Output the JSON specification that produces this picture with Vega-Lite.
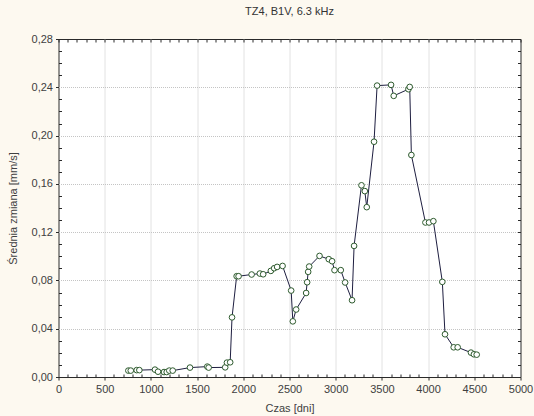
{
  "$schema": "https://vega.github.io/schema/vega-lite/v6.json",
  "width": 462,
  "height": 338,
  "autosize": {"type": "none"},
  "padding": {"left": 58.5, "top": 39, "right": 13.5, "bottom": 39},
  "background": "#fdf9f0",
  "title": {
    "text": "TZ4, B1V, 6.3 kHz",
    "font": "Liberation Sans",
    "fontSize": 11,
    "fontWeight": "normal",
    "color": "#333333",
    "offset": 16
  },
  "config": {
    "view": {"fill": "white", "stroke": "#2a2a2a", "strokeWidth": 1},
    "axis": {
      "labelFont": "Liberation Sans",
      "labelFontSize": 11,
      "labelColor": "#404040",
      "titleFont": "Liberation Sans",
      "titleFontSize": 11,
      "titleFontWeight": "normal",
      "titleColor": "#404040",
      "domain": false,
      "tickColor": "#2a2a2a",
      "gridColor": "#c4c4c4",
      "gridDash": [1, 1],
      "labelOverlap": false,
      "labelFlush": false
    }
  },
  "data": {
    "values": [
      {"t": 756, "v": 0.0053}, {"t": 782, "v": 0.0053}, {"t": 846, "v": 0.0057},
      {"t": 875, "v": 0.0057}, {"t": 1044, "v": 0.0061}, {"t": 1077, "v": 0.0044},
      {"t": 1142, "v": 0.0041}, {"t": 1171, "v": 0.0041}, {"t": 1199, "v": 0.0053},
      {"t": 1236, "v": 0.0053}, {"t": 1423, "v": 0.0078}, {"t": 1610, "v": 0.0086},
      {"t": 1625, "v": 0.0078}, {"t": 1804, "v": 0.0080}, {"t": 1823, "v": 0.0119},
      {"t": 1858, "v": 0.0122}, {"t": 1878, "v": 0.0494}, {"t": 1928, "v": 0.0835},
      {"t": 1949, "v": 0.0835}, {"t": 2090, "v": 0.0849}, {"t": 2179, "v": 0.0857},
      {"t": 2215, "v": 0.0851}, {"t": 2298, "v": 0.0879}, {"t": 2334, "v": 0.0901},
      {"t": 2366, "v": 0.0912}, {"t": 2425, "v": 0.0920}, {"t": 2518, "v": 0.0716},
      {"t": 2536, "v": 0.0461}, {"t": 2572, "v": 0.0559}, {"t": 2680, "v": 0.0696},
      {"t": 2691, "v": 0.0785}, {"t": 2702, "v": 0.0871}, {"t": 2713, "v": 0.0915},
      {"t": 2825, "v": 0.1003}, {"t": 2925, "v": 0.0976}, {"t": 2961, "v": 0.0959},
      {"t": 2987, "v": 0.0885}, {"t": 3055, "v": 0.0885}, {"t": 3102, "v": 0.0783},
      {"t": 3177, "v": 0.0636}, {"t": 3199, "v": 0.1086}, {"t": 3279, "v": 0.1588},
      {"t": 3315, "v": 0.1540}, {"t": 3336, "v": 0.1407}, {"t": 3415, "v": 0.1949},
      {"t": 3448, "v": 0.2414}, {"t": 3599, "v": 0.2420}, {"t": 3628, "v": 0.2329},
      {"t": 3787, "v": 0.2384}, {"t": 3801, "v": 0.2403}, {"t": 3819, "v": 0.1839},
      {"t": 3971, "v": 0.1280}, {"t": 4010, "v": 0.1280}, {"t": 4057, "v": 0.1291},
      {"t": 4154, "v": 0.0788}, {"t": 4183, "v": 0.0354}, {"t": 4277, "v": 0.0246},
      {"t": 4320, "v": 0.0246}, {"t": 4464, "v": 0.0202}, {"t": 4496, "v": 0.0188},
      {"t": 4526, "v": 0.0185}
    ]
  },
  "layer": [
    {
      "mark": {"type": "line", "color": "#1e1e40", "strokeWidth": 1},
      "encoding": {
        "x": {
          "field": "t",
          "type": "quantitative",
          "scale": {"domain": [0, 5000], "nice": false, "zero": false},
          "axis": {
            "orient": "bottom",
            "title": "Czas [dni]",
            "titlePadding": 8,
            "values": [0,100,200,300,400,500,600,700,800,900,1000,1100,1200,1300,1400,1500,1600,1700,1800,1900,2000,2100,2200,2300,2400,2500,2600,2700,2800,2900,3000,3100,3200,3300,3400,3500,3600,3700,3800,3900,4000,4100,4200,4300,4400,4500,4600,4700,4800,4900,5000],
            "labelExpr": "datum.value % 500 === 0 ? '' + datum.value : ''",
            "labelPadding": 3,
            "tickSize": {"condition": {"test": "datum.value % 500 === 0", "value": 3}, "value": -3},
            "gridOpacity": {"condition": {"test": "datum.value % 500 === 0 && datum.value > 0 && datum.value < 5000", "value": 1}, "value": 0}
          }
        },
        "y": {
          "field": "v",
          "type": "quantitative",
          "scale": {"domain": [0, 0.28], "nice": false},
          "axis": {
            "orient": "left",
            "title": "Średnia zmiana [mm/s]",
            "titlePadding": 13,
            "values": [0,0.01,0.02,0.03,0.04,0.05,0.06,0.07,0.08,0.09,0.1,0.11,0.12,0.13,0.14,0.15,0.16,0.17,0.18,0.19,0.2,0.21,0.22,0.23,0.24,0.25,0.26,0.27,0.28],
            "labelExpr": "round(datum.value * 100) % 4 === 0 ? replace(format(datum.value, '.2f'), '.', ',') : ''",
            "labelPadding": 3,
            "tickSize": {"condition": {"test": "round(datum.value * 100) % 4 === 0", "value": 3}, "value": -3},
            "gridOpacity": {"condition": {"test": "round(datum.value * 100) % 4 === 0 && datum.value > 0.001 && datum.value < 0.279", "value": 1}, "value": 0}
          }
        }
      }
    },
    {
      "mark": {"type": "point", "shape": "circle", "filled": true, "fill": "white", "stroke": "#2d5a2d", "strokeWidth": 1, "size": 32, "opacity": 1},
      "encoding": {
        "x": {
          "field": "t",
          "type": "quantitative",
          "axis": {
            "orient": "top",
            "title": null,
            "labels": false,
            "grid": false,
            "values": [0,100,200,300,400,500,600,700,800,900,1000,1100,1200,1300,1400,1500,1600,1700,1800,1900,2000,2100,2200,2300,2400,2500,2600,2700,2800,2900,3000,3100,3200,3300,3400,3500,3600,3700,3800,3900,4000,4100,4200,4300,4400,4500,4600,4700,4800,4900,5000],
            "tickSize": -3
          }
        },
        "y": {
          "field": "v",
          "type": "quantitative",
          "axis": {
            "orient": "right",
            "title": null,
            "labels": false,
            "grid": false,
            "values": [0,0.01,0.02,0.03,0.04,0.05,0.06,0.07,0.08,0.09,0.1,0.11,0.12,0.13,0.14,0.15,0.16,0.17,0.18,0.19,0.2,0.21,0.22,0.23,0.24,0.25,0.26,0.27,0.28],
            "tickSize": -3
          }
        }
      }
    }
  ],
  "resolve": {"axis": {"x": "independent", "y": "independent"}}
}
